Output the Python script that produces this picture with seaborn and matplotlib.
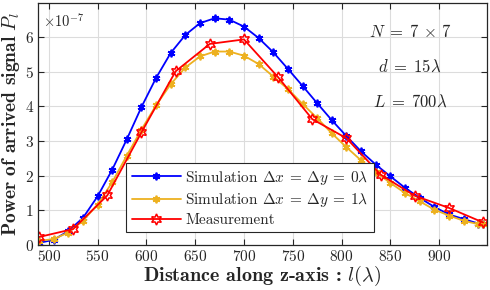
import numpy as np
import pandas as pd
import matplotlib
matplotlib.use("Agg")
import matplotlib.pyplot as plt
import seaborn as sns

# Data (power values in units of 1e-7)
sim_x = [490, 505, 520, 535, 550, 565, 580, 595, 610, 625, 640, 655, 670, 685, 700,
         715, 730, 745, 760, 775, 790, 805, 820, 835, 850, 865, 880, 895, 910, 925, 940, 945]
sim0_e7 = [0.06, 0.15, 0.40, 0.78, 1.40, 2.17, 3.05, 3.98, 4.82, 5.54, 6.06, 6.40, 6.54, 6.50, 6.30,
           5.97, 5.56, 5.08, 4.59, 4.09, 3.60, 3.14, 2.70, 2.32, 1.98, 1.65, 1.36, 1.10, 0.88, 0.75, 0.62, 0.62]
sim1_e7 = [0.12, 0.17, 0.36, 0.70, 1.16, 1.81, 2.58, 3.33, 4.03, 4.64, 5.12, 5.44, 5.58, 5.58, 5.46,
           5.22, 4.86, 4.50, 4.07, 3.66, 3.22, 2.82, 2.44, 2.10, 1.79, 1.50, 1.26, 1.02, 0.85, 0.70, 0.60, 0.60]
meas_x = [490, 525, 560, 595, 630, 665, 700, 735, 770, 805, 840, 875, 910, 945]
meas_e7 = [0.23, 0.46, 1.43, 3.25, 5.01, 5.80, 5.93, 4.84, 3.63, 3.08, 2.03, 1.42, 1.07, 0.65]

labels = [r"Simulation $\Delta x\:=\:\Delta y\:=\:0\lambda$",
          r"Simulation $\Delta x\:=\:\Delta y\:=\:1\lambda$",
          "Measurement"]
x_ticks = [500, 550, 600, 650, 700, 750, 800, 850, 900]
y_ticks = [0, 1, 2, 3, 4, 5, 6]

sns.set_theme(style="whitegrid")
plt.rcParams["font.family"] = ["cmr10", "DejaVu Serif"]
plt.rcParams["mathtext.fontset"] = "cm"
plt.rcParams["axes.formatter.use_mathtext"] = True

fig = plt.figure(figsize=(4.9, 2.9), dpi=100)
ax = fig.add_axes([38/490, 1-245/290, 449/490, 242/290])

asterisk = (6, 2, 0)
hexagram = (6, 1, 0)

sns.lineplot(x=sim_x, y=sim0_e7, ax=ax, color="#0000FF", lw=1.3, marker=asterisk,
             markersize=5.5, markeredgewidth=1.3, markeredgecolor="#0000FF", label=labels[0])
sns.lineplot(x=sim_x, y=sim1_e7, ax=ax, color="#EDB120", lw=1.3, marker=asterisk,
             markersize=5.5, markeredgewidth=1.3, markeredgecolor="#EDB120", label=labels[1])
sns.lineplot(x=meas_x, y=meas_e7, ax=ax, color="#FF0000", lw=1.3, marker=hexagram,
             markersize=8, markeredgewidth=1.1, markeredgecolor="#FF0000",
             markerfacecolor="none", label=labels[2])

ax.set_xlim(489, 949)
ax.set_ylim(0, 6.98)
ax.set_xticks(x_ticks)
ax.set_yticks(y_ticks)
ax.tick_params(axis="both", which="both", direction="in", length=4, width=0.8,
               top=True, right=True, bottom=True, left=True, labelsize=11,
               colors="#262626", pad=3)
for s in ax.spines.values():
    s.set_color("#262626")
    s.set_linewidth(0.9)
ax.grid(True, color="#dcdcdc", lw=0.8)
ax.set_facecolor("white")

ax.set_xlabel(r"Distance along z-axis : $l(\lambda)$", fontsize=14.5,
              family=["cmb10", "DejaVu Serif"], labelpad=0, color="#262626")
ax.set_ylabel(r"Power of arrived signal $P_l$", fontsize=14,
              family=["cmb10", "DejaVu Serif"], labelpad=2, color="#262626")

ax.text(0.012, 0.965, r"$\times10^{-7}$", transform=ax.transAxes, fontsize=10.5,
        ha="left", va="top", color="#262626")
ax.text(870, 6.15, r"$N\;=\;7\,\times\,7$", fontsize=12, ha="center", va="center")
ax.text(870, 5.14, r"$d\;=\;15\lambda$", fontsize=12, ha="center", va="center")
ax.text(870, 4.13, r"$L\;=\;700\lambda$", fontsize=12, ha="center", va="center")

leg = ax.legend(loc="lower left", bbox_to_anchor=(0.197, 0.052), fontsize=11,
                frameon=True, fancybox=False, framealpha=1, edgecolor="#262626",
                handlelength=3.2, borderpad=0.35, labelspacing=0.28, handletextpad=0.3,
                borderaxespad=0)
leg.get_frame().set_linewidth(0.8)

fig.savefig("out.png", dpi=100)
